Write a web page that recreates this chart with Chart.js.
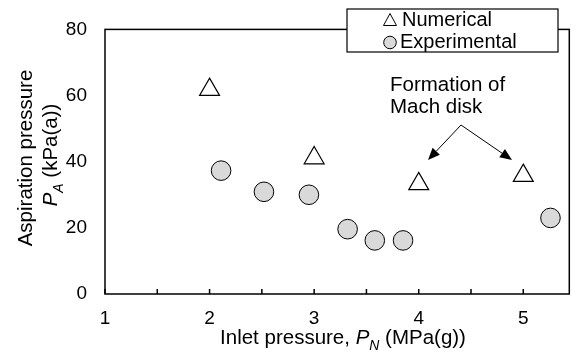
<!DOCTYPE html>
<html>
<head>
<meta charset="utf-8">
<script src="https://cdn.jsdelivr.net/npm/chart.js@4.4.0/dist/chart.umd.min.js"></script>
<style>
html, body { margin: 0; padding: 0; background: #fff; }
#wrap { width: 582px; height: 354px; }
</style>
</head>
<body>
<div id="wrap"><canvas id="chart" width="582" height="354"></canvas></div>
<script>
// --- DATA ---
const numericalX = [2, 3, 4, 5];
const numericalY = [61.8, 41.1, 33.3, 35.8];
const experimentalX = [2.11, 2.52, 2.95, 3.32, 3.58, 3.85, 5.26];
const experimentalY = [37.3, 30.9, 30.0, 19.6, 16.2, 16.2, 23.0];
const xTickLabels = [1, 2, 3, 4, 5];
const yTickLabels = [0, 20, 40, 60, 80];

const FONT = 'Arial, "Liberation Sans", sans-serif';
const TITLE_SIZE = 20.5;

function toPoints(xs, ys) {
    return xs.map((x, i) => ({ x: x, y: ys[i] }));
}

// draw a line of text made of parts (some italic, some subscript), centred on cx,cy
function drawRich(ctx, parts, cx, cy, size) {
    const fontOf = p => (p.italic ? 'italic ' : '') + (p.sub ? size * 0.68 : size) + 'px ' + FONT;
    let total = 0;
    parts.forEach(p => { ctx.font = fontOf(p); p.w = ctx.measureText(p.t).width; total += p.w; });
    let x = cx - total / 2;
    const base = cy + size * 0.36;
    ctx.textAlign = 'left';
    ctx.textBaseline = 'alphabetic';
    parts.forEach(p => {
        ctx.font = fontOf(p);
        ctx.fillText(p.t, x, p.sub ? base + size * 0.25 : base);
        x += p.w;
    });
}

function arrow(ctx, x1, y1, x2, y2) {
    const ang = Math.atan2(y2 - y1, x2 - x1);
    const len = 12, half = 5;
    const bx = x2 - len * Math.cos(ang), by = y2 - len * Math.sin(ang);
    ctx.beginPath();
    ctx.moveTo(x1, y1);
    ctx.lineTo(bx, by);
    ctx.stroke();
    ctx.beginPath();
    ctx.moveTo(x2, y2);
    ctx.lineTo(bx + half * Math.sin(ang), by - half * Math.cos(ang));
    ctx.lineTo(bx - half * Math.sin(ang), by + half * Math.cos(ang));
    ctx.closePath();
    ctx.fill();
}

// frame, inward x ticks, axis titles, legend box and annotation
const decorations = {
    id: 'decorations',
    beforeDatasetsDraw(chart) {
        const { ctx, chartArea: a, scales } = chart;
        ctx.save();
        ctx.strokeStyle = '#000';
        ctx.lineWidth = 1.5;
        ctx.strokeRect(a.left, a.top, a.right - a.left, a.bottom - a.top);
        ctx.beginPath();
        scales.x.ticks.forEach(t => {
            const px = scales.x.getPixelForValue(t.value);
            ctx.moveTo(px, a.bottom);
            ctx.lineTo(px, a.bottom - 5);
        });
        ctx.stroke();
        ctx.restore();
    },
    afterDraw(chart) {
        const { ctx } = chart;
        ctx.save();
        ctx.fillStyle = '#000';

        // axis titles
        drawRich(ctx, [
            { t: 'Inlet pressure, ' },
            { t: 'P', italic: true },
            { t: 'N', italic: true, sub: true },
            { t: ' (MPa(g))' }
        ], 343, 337, TITLE_SIZE);

        ctx.save();
        ctx.translate(25, 158);
        ctx.rotate(-Math.PI / 2);
        drawRich(ctx, [{ t: 'Aspiration pressure' }], 0, 0, TITLE_SIZE);
        ctx.restore();
        ctx.save();
        ctx.translate(50, 155);
        ctx.rotate(-Math.PI / 2);
        drawRich(ctx, [
            { t: 'P', italic: true },
            { t: 'A', italic: true, sub: true },
            { t: ' (kPa(a))' }
        ], 0, 0, TITLE_SIZE);
        ctx.restore();

        // legend box
        ctx.fillStyle = '#fff';
        ctx.fillRect(347, 9, 211, 43);
        ctx.strokeStyle = '#000';
        ctx.lineWidth = 1.2;
        ctx.strokeRect(347, 9, 211, 43);
        ctx.lineWidth = 1;
        ctx.beginPath();
        ctx.moveTo(390, 13.5);
        ctx.lineTo(396.5, 25.5);
        ctx.lineTo(383.5, 25.5);
        ctx.closePath();
        ctx.fillStyle = '#fff';
        ctx.fill();
        ctx.stroke();
        ctx.beginPath();
        ctx.arc(390, 42.5, 6.3, 0, Math.PI * 2);
        ctx.fillStyle = '#d9d9d9';
        ctx.fill();
        ctx.stroke();
        ctx.fillStyle = '#000';
        ctx.font = '20px ' + FONT;
        ctx.textAlign = 'left';
        ctx.textBaseline = 'middle';
        ctx.fillText('Numerical', 402, 20);
        ctx.fillText('Experimental', 400, 42);

        // annotation
        ctx.font = TITLE_SIZE + 'px ' + FONT;
        ctx.fillText('Formation of', 390, 85);
        ctx.fillText('Mach disk', 390, 107);
        ctx.lineWidth = 1;
        arrow(ctx, 461, 125, 428, 160);
        arrow(ctx, 461, 125, 512, 160);
        ctx.restore();
    }
};

const ctx = document.getElementById('chart').getContext('2d');
new Chart(ctx, {
    type: 'scatter',
    data: {
        datasets: [
            {
                label: 'Numerical',
                data: toPoints(numericalX, numericalY),
                pointStyle: 'triangle',
                pointRadius: 11.5,
                backgroundColor: '#fff',
                borderColor: '#000',
                borderWidth: 1.2
            },
            {
                label: 'Experimental',
                data: toPoints(experimentalX, experimentalY),
                pointStyle: 'circle',
                pointRadius: 9.8,
                backgroundColor: '#d9d9d9',
                borderColor: '#000',
                borderWidth: 1
            }
        ]
    },
    options: {
        responsive: false,
        animation: false,
        layout: { padding: { left: 0, right: 6, top: 19, bottom: 0 } },
        plugins: {
            legend: { display: false },
            tooltip: { enabled: false }
        },
        scales: {
            x: {
                type: 'linear',
                min: 1,
                max: 5.44,
                afterFit: s => { s.height = 60; },
                grid: { display: false, drawTicks: false },
                border: { display: false },
                ticks: {
                    stepSize: 0.5,
                    includeBounds: false,
                    autoSkip: false,
                    maxRotation: 0,
                    padding: 13,
                    color: '#000',
                    font: { family: FONT, size: 19 },
                    callback: v => xTickLabels.includes(v) ? String(v) : ''
                }
            },
            y: {
                min: 0,
                max: 80,
                afterFit: s => { s.width = 105; },
                grid: { display: false, drawTicks: false },
                border: { display: false },
                ticks: {
                    stepSize: 20,
                    padding: 18,
                    color: '#000',
                    font: { family: FONT, size: 19 },
                    callback: v => yTickLabels.includes(v) ? String(v) : ''
                }
            }
        }
    },
    plugins: [decorations]
});
</script>
</body>
</html>
